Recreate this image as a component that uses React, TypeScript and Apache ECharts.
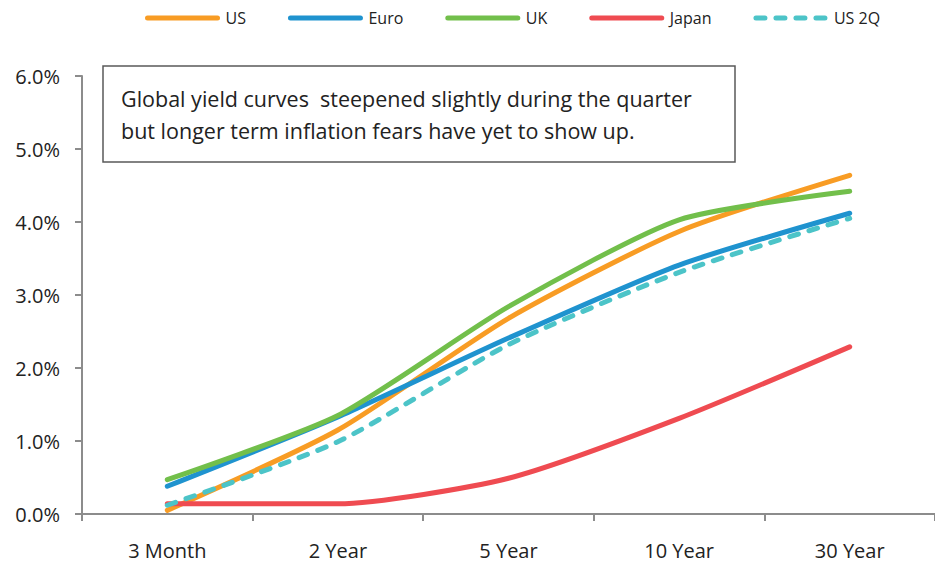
import React, { useEffect, useRef } from "react";
import * as echarts from "echarts";

const categories = ["3 Month", "2 Year", "5 Year", "10 Year", "30 Year"];
const usValues = [0.05, 1.15, 2.68, 3.87, 4.64];
const euroValues = [0.38, 1.33, 2.41, 3.41, 4.12];
const ukValues = [0.47, 1.35, 2.84, 4.03, 4.42];
const japanValues = [0.14, 0.14, 0.49, 1.31, 2.29];
const us2qValues = [0.12, 0.99, 2.32, 3.31, 4.05];
const yTicks = [0, 1, 2, 3, 4, 5, 6];
const noteLines = [
  "Global yield curves  steepened slightly during the quarter",
  "but longer term inflation fears have yet to show up.",
];

const FONT = "'Open Sans', Lato, sans-serif";

export default function App() {
  const ref = useRef<HTMLDivElement>(null);
  useEffect(() => {
    if (!ref.current) return;
    const chart = echarts.init(ref.current, null, { renderer: "svg" });
    const mk = (name: string, data: number[], color: string, dashed = false) => ({
      name,
      type: "line",
      data,
      smooth: 0.22,
      symbol: "none",
      lineStyle: {
        color,
        width: 5,
        cap: "round",
        join: "round",
        type: dashed ? [9, 11] : "solid",
      },
      itemStyle: { color },
      z: 2,
    });
    chart.setOption({
      animation: false,
      textStyle: { fontFamily: FONT },
      legend: {
        top: 5,
        left: 140,
        itemWidth: 70,
        itemHeight: 14,
        itemGap: 42,
        itemStyle: { opacity: 0 },
        lineStyle: { width: 5, cap: "round" },
        textStyle: { fontSize: 16, color: "#222", fontFamily: FONT, padding: [0, 0, 0, 3] },
        data: ["US", "Euro", "UK", "Japan", "US 2Q"],
      },
      grid: { left: 82, right: -2, top: 76, bottom: 49, containLabel: false },
      xAxis: {
        type: "category",
        data: categories,
        boundaryGap: true,
        axisLine: { lineStyle: { color: "#8c8c8c", width: 2 } },
        axisTick: { show: true, length: 7, alignWithLabel: false, lineStyle: { color: "#8c8c8c", width: 2 } },
        axisLabel: { margin: 26, fontSize: 20, color: "#222", fontFamily: FONT },
        splitLine: { show: false },
      },
      yAxis: {
        type: "value",
        min: yTicks[0],
        max: yTicks[yTicks.length - 1],
        interval: 1,
        axisLine: { show: true, lineStyle: { color: "#8c8c8c", width: 2 } },
        axisTick: { show: true, length: 7, lineStyle: { color: "#8c8c8c", width: 2 } },
        axisLabel: {
          margin: 22,
          fontSize: 20,
          color: "#222",
          fontFamily: FONT,
          formatter: (v: number) => v.toFixed(1) + "%",
        },
        splitLine: { show: false },
      },
      graphic: [
        {
          type: "rect",
          shape: { x: 103, y: 66, width: 632, height: 96 },
          style: { fill: "#fff", stroke: "#595959", lineWidth: 1.5 },
          z: 10,
        },
        ...noteLines.map((t, i) => ({
          type: "text",
          x: 121,
          y: 98 + i * 32,
          style: {
            text: t,
            fill: "#222",
            font: `21.5px ${FONT}`,
            verticalAlign: "middle",
          },
          z: 11,
        })),
      ],
      series: [
        mk("US", usValues, "#F89C24"),
        mk("Euro", euroValues, "#1F93CF"),
        mk("UK", ukValues, "#72BF4B"),
        mk("Japan", japanValues, "#EF4B51"),
        mk("US 2Q", us2qValues, "#4CC4C8", true),
      ],
    });
    return () => chart.dispose();
  }, []);
  return <div ref={ref} style={{ width: 935, height: 563, position: "absolute", left: 0, top: 0 }} />;
}
